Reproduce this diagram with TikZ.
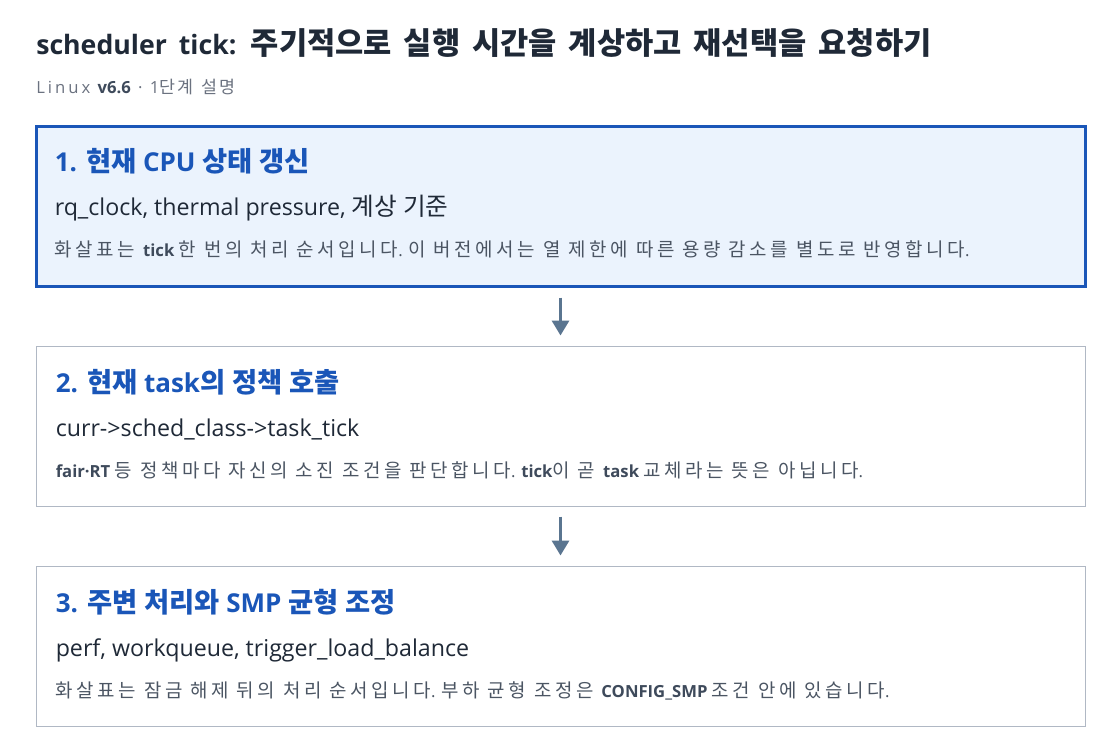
\documentclass[tikz,border=0pt]{standalone}
\usepackage{fontspec}
\setmainfont{Open Sans}
\newfontfamily\krfont{Noto Sans CJK KR}
\newfontfamily\spacedfam[LetterSpace=18]{Open Sans}
\usetikzlibrary{positioning,arrows.meta}

\definecolor{titlecol}{HTML}{1F2937}
\definecolor{subcol}{HTML}{6B7280}
\definecolor{headcol}{HTML}{1A56B8}
\definecolor{bodycol}{HTML}{1F2937}
\definecolor{notecol}{HTML}{4B5563}
\definecolor{kwcol}{HTML}{3E4A5B}
\definecolor{curfill}{HTML}{EBF3FD}
\definecolor{boxline}{HTML}{B0B8C4}
\definecolor{arrowcol}{HTML}{5A7590}

% hangul runs: own font, size and tracking
\def\latinfam{\rmfamily}
\def\latinsize{12pt}
\def\krsize{12pt}
\def\krtrack{0pt}
\newcommand{\tokr}{\krfont\fontsize{\krsize}{\krsize}\selectfont}
\newcommand{\tolatin}{\latinfam\fontsize{\latinsize}{\latinsize}\selectfont}
\XeTeXinterchartokenstate=1
\newXeTeXintercharclass\hangulclass
\newcount\hc
\hc="AC00
\loop\XeTeXcharclass\hc=\hangulclass\ifnum\hc<"D7A3 \advance\hc by 1 \repeat
\XeTeXinterchartoks 0 \hangulclass = {\tokr}
\XeTeXinterchartoks 4095 \hangulclass = {\tokr}
\XeTeXinterchartoks \hangulclass \hangulclass = {\kern\krtrack}
\XeTeXinterchartoks \hangulclass 0 = {\tolatin}
\XeTeXinterchartoks \hangulclass 4095 = {\kern\krtrack\tolatin}

\newcommand{\kw}[1]{{\def\latinfam{\rmfamily}\bfseries\color{kwcol}\tolatin#1}}

\begin{document}
\begin{tikzpicture}[x=0.75pt,y=-0.75pt,>={Triangle[length=11.25pt,width=12.75pt]},node distance=165pt,
  stage box/.style={draw=boxline,fill=white,line width=0.75pt,minimum width=786.75pt,minimum height=120pt,inner sep=0pt},
  current/.style={draw=headcol,fill=curfill,line width=2.25pt},
  title text/.style={anchor=base west,inner sep=0pt,text=titlecol,font={\bfseries\def\latinsize{20pt}\def\krsize{23pt}\tolatin\spaceskip=9pt\relax}},
  sub text/.style={anchor=base west,inner sep=0pt,text=subcol,font={\def\latinfam{\spacedfam}\def\latinsize{12.5pt}\def\krsize{13pt}\def\krtrack{1.2pt}\tolatin}},
  head text/.style={anchor=base west,inner sep=0pt,text=headcol,font={\bfseries\def\latinsize{19.5pt}\def\krsize{20.5pt}\tolatin}},
  body text/.style={anchor=base west,inner sep=0pt,text=bodycol,font={\def\latinsize{17.4pt}\def\krsize{18.5pt}\tolatin}},
  note text/.style={anchor=base west,inner sep=0pt,text=notecol,font={\def\latinsize{12.5pt}\def\krsize{14.2pt}\def\krtrack{2.7pt}\tolatin}},
  flow/.style={->,draw=arrowcol,line width=2.4pt,shorten >=7.5pt,shorten <=7.5pt}]

    \useasboundingbox[fill=white] (0,0) rectangle (1120,754);

    \node[title text] (title) at (36,54) {scheduler tick: 주기적으로 실행 시간을 계상하고 재선택을 요청하기};
    \node[sub text] (sub) at (36,93) {Linux \kw{v6.6} · 1단계 설명};

    \node[stage box, current] (1) at (560.5,206) {};
    \node[stage box] (2) [below of = 1] {};
    \node[stage box] (3) [below of = 2] {};

    \node[head text] (1h) at ([shift={(20,47)}]1.north west) {1. 현재 CPU 상태 갱신};
    \node[body text] (1b) at ([shift={(20,91)}]1.north west) {rq\_clock, thermal pressure, 계상 기준};
    \node[note text] (1n) at ([shift={(20,132)}]1.north west) {화살표는 \kw{tick} 한 번의 처리 순서입니다. 이 버전에서는 열 제한에 따른 용량 감소를 별도로 반영합니다.};

    \node[head text] (2h) at ([shift={(20,47)}]2.north west) {2. 현재 task의 정책 호출};
    \node[body text] (2b) at ([shift={(20,91)}]2.north west) {curr->sched\_class->task\_tick};
    \node[note text] (2n) at ([shift={(20,132)}]2.north west) {\kw{fair·RT} 등 정책마다 자신의 소진 조건을 판단합니다. \kw{tick}이 곧 \kw{task} 교체라는 뜻은 아닙니다.};

    \node[head text] (3h) at ([shift={(20,47)}]3.north west) {3. 주변 처리와 SMP 균형 조정};
    \node[body text] (3b) at ([shift={(20,91)}]3.north west) {perf, workqueue, trigger\_load\_balance};
    \node[note text] (3n) at ([shift={(20,132)}]3.north west) {화살표는 잠금 해제 뒤의 처리 순서입니다. 부하 균형 조정은 \kw{CONFIG\_SMP} 조건 안에 있습니다.};

    \draw[flow] (1) to (2);
    \draw[flow] (2) to (3);

\end{tikzpicture}
\end{document}
